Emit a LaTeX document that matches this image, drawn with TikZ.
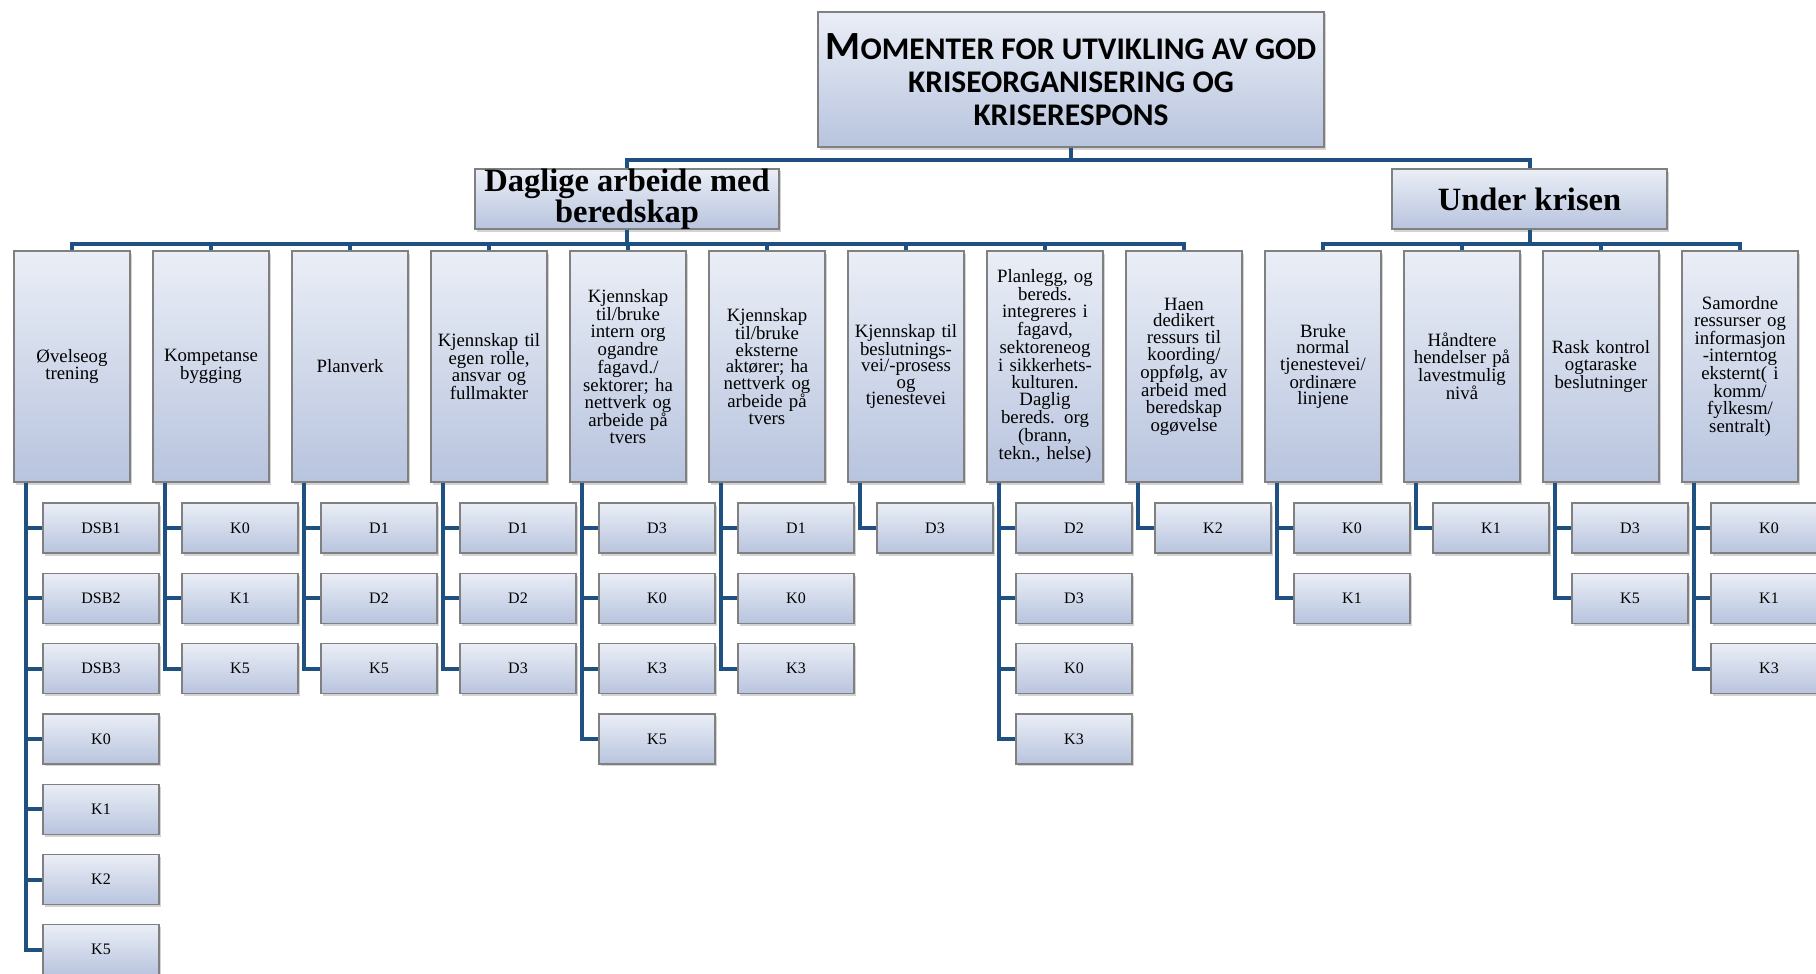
\documentclass[tikz,border=0pt]{standalone}
\usepackage{fontspec}
\setmainfont{Liberation Serif}
\newfontfamily\titlefont{Carlito}
\usetikzlibrary{shadows}
\definecolor{boxtop}{RGB}{234,238,246}
\definecolor{boxbot}{RGB}{184,196,222}
\definecolor{boxline}{RGB}{128,128,128}
\definecolor{linkblue}{RGB}{31,80,130}
\tikzset{
  box/.style = {draw=boxline, line width=1.2pt, top color=boxtop, bottom color=boxbot,
    inner sep=0pt, align=center,
    drop shadow={shadow xshift=1.5pt, shadow yshift=-2.5pt, opacity=0.35}},
  topbox/.style = {box, minimum width=506pt, minimum height=135pt,
    font=\titlefont\bfseries\fontsize{31.5}{33}\selectfont},
  groupbox/.style = {box, minimum height=60pt, font=\bfseries\fontsize{32.5}{28}\selectfont},
  colbox/.style = {box, minimum width=116pt, minimum height=231pt, text width=112pt,
    font=\fontsize{18.8}{16.6}\selectfont},
  leaf/.style = {box, minimum width=116pt, minimum height=50pt, font=\fontsize{16}{18}\selectfont},
  link/.style = {draw=linkblue, line width=4pt}
}

\begin{document}
\begin{tikzpicture}[x=1pt,y=-1pt]
  \useasboundingbox (0,0) rectangle (1816,974);
  % top
  \node[topbox] (top) at (1071,79.5) {{\fontsize{40}{33}\selectfont M}OMENTER FOR UTVIKLING AV GOD\\KRISEORGANISERING OG\\KRISERESPONS};
  % the two groups
  \node[groupbox, minimum width=304pt] (dag) at (627,199) {Daglige arbeide med\\beredskap};
  \node[groupbox, minimum width=275pt] (uk) at (1529.5,199) {Under krisen};
  \draw[link] (top.south) -- ++(0,12) -| (dag.north);
  \draw[link] (top.south) -- ++(0,12) -| (uk.north);
  % columns
  \foreach \n/\up/\txt in {
      1/dag/{Øvelseog\\trening},
      2/dag/{Kompetanse\\bygging},
      3/dag/{Planverk},
      4/dag/{Kjennskap til\\egen rolle,\\ansvar og\\fullmakter},
      5/dag/{Kjennskap\\til/bruke\\intern org\\ogandre\\fagavd./\\sektorer; ha\\nettverk og\\arbeide på\\tvers},
      6/dag/{Kjennskap\\til/bruke\\eksterne\\aktører; ha\\nettverk og\\arbeide på\\tvers},
      7/dag/{Kjennskap til\\beslutnings-\\vei/-prosess\\og\\tjenestevei},
      8/dag/{Planlegg, og\\bereds.\\integreres i\\fagavd,\\sektoreneog\\i sikkerhets-\\kulturen.\\Daglig\\bereds. org\\(brann,\\tekn., helse)},
      9/dag/{Haen\\dedikert\\ressurs til\\koording/\\oppfølg, av\\arbeid med\\beredskap\\ogøvelse},
      10/uk/{Bruke\\normal\\tjenestevei/\\ordinære\\linjene},
      11/uk/{Håndtere\\hendelser på\\lavestmulig\\nivå},
      12/uk/{Rask kontrol\\ogtaraske\\beslutninger},
      13/uk/{Samordne\\ressurser og\\informasjon\\-interntog\\eksternt( i\\komm/\\fylkesm/\\sentralt)}} {
    \node[colbox] (c\n) at ({72+139*(\n-1)},366.5) {\txt};
    \draw[link] (\up.south) -- ++(0,14) -| (c\n.north);
  }
  % leaves
  \foreach \n/\list in {1/{DSB1,DSB2,DSB3,K0,K1,K2,K5}, 2/{K0,K1,K5}, 3/{D1,D2,K5},
      4/{D1,D2,D3}, 5/{D3,K0,K3,K5}, 6/{D1,K0,K3}, 7/{D3}, 8/{D2,D3,K0,K3}, 9/{K2},
      10/{K0,K1}, 11/{K1}, 12/{D3,K5}, 13/{K0,K1,K3}} {
    \foreach \lbl [count=\i] in \list {
      \node[leaf] (c\n-\i) at ({101+139*(\n-1)},{528+70.3*(\i-1)}) {\lbl};
      \draw[link] ([xshift=13pt]c\n.south west) |- (c\n-\i.west);
    }
  }
\end{tikzpicture}
\end{document}
